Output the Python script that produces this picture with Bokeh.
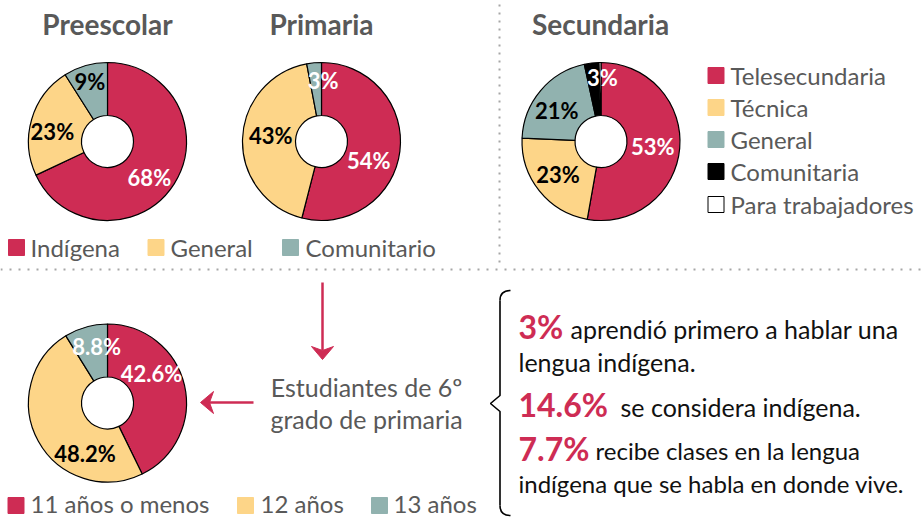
import math
from bokeh.plotting import figure
from bokeh.models import Range1d, ColumnDataSource
from bokeh.core.properties import value
from bokeh.embed import file_html
from bokeh.resources import INLINE

# ---------------- data ----------------
pre_labels = ["Indígena", "General", "Comunitario"]
pre_values = [68, 23, 9]
pri_values = [54, 43, 3]

sec_labels = ["Telesecundaria", "Técnica", "General", "Comunitaria", "Para trabajadores"]
sec_values = [53, 23, 21, 3, 0.4]

age_labels = ["11 años o menos", "12 años", "13 años"]
age_values = [42.6, 48.2, 8.8]

titles = ["Preescolar", "Primaria", "Secundaria"]

facts_num = ["3%", "14.6%", "7.7%"]
facts_txt = ["aprendió primero a hablar una", "se considera indígena.", "recibe clases en la lengua"]
facts_txt2 = ["lengua indígena.", "indígena que se habla en donde vive."]

center_text = ["Estudiantes de 6º", "grado de primaria"]

# ---------------- styles ----------------
RED = "#CE2C54"
YEL = "#FDD588"
TEAL = "#91B2AF"
GRAY = "#595959"
pal3 = [RED, YEL, TEAL]
pal5 = [RED, YEL, TEAL, "#000000", "#FFFFFF"]
FONT = "Lato"

W, H = 924, 520

def Y(py):
    return H - py

p = figure(width=W, height=H, x_range=Range1d(0, W), y_range=Range1d(0, H),
           output_backend="svg", toolbar_location=None, min_border=0)
p.axis.visible = False
p.grid.visible = False
p.outline_line_color = None
p.background_fill_color = "white"
p.border_fill_color = "white"

R_OUT, R_IN = 79, 26

def txt(xs, ys, texts, color, size, bold=False, align="left"):
    p.text(x=xs, y=[Y(v) for v in ys], text=texts, text_color=color,
           text_font=value(FONT), text_font_style="bold" if bold else "normal",
           text_font_size=f"{size}px", text_align=align, text_baseline="middle")

def donut(cx, cy, vals, colors, label_colors, tweaks):
    tot = float(sum(vals))
    starts, ends, mids = [], [], []
    c = 0.0
    for v in vals:
        a0 = c / tot
        c += v
        a1 = c / tot
        starts.append(math.pi / 2 - 2 * math.pi * a0)
        ends.append(math.pi / 2 - 2 * math.pi * a1)
        mids.append((a0 + a1) / 2 * 360.0)
    src = ColumnDataSource(dict(x=[cx] * len(vals), y=[Y(cy)] * len(vals),
                                s=starts, e=ends, c=colors[:len(vals)]))
    p.annular_wedge(x="x", y="y", inner_radius=R_IN, outer_radius=R_OUT,
                    start_angle="s", end_angle="e", direction="clock",
                    fill_color="c", line_color="black", line_width=1.2, source=src)
    lx, ly, lt, lc = [], [], [], []
    for v, m, col, tw in zip(vals, mids, label_colors, tweaks):
        if tw is None:
            continue
        r, d = tw
        ang = math.radians(m + d)
        lx.append(cx + r * math.sin(ang))
        ly.append(Y(cy - r * math.cos(ang)))
        lt.append(f"{v:g}%")
        lc.append(col)
    p.text(x=lx, y=ly, text=lt, text_color=lc, text_font=value(FONT),
           text_font_style="bold", text_font_size="22px",
           text_align="center", text_baseline="middle")

donut(107, 141, pre_values, pal3, ["white", "black", "black"],
      [(55, 8), (56, -6), (63, 0)])
donut(321, 141, pri_values, pal3, ["white", "black", "white"],
      [(51, 15), (51, 5), (61, 7)])
donut(600.5, 141, sec_values, pal5, ["white", "black", "black", "white", None],
      [(52, 1), (54, 1.5), (54, -5), (64, 8), None])
donut(107, 402.5, age_values, pal3, ["white", "black", "white"],
      [(53, -21), (55, -37), (58, 5)])

# titles
txt([107, 321, 600], [23] * 3, titles, GRAY, 28, bold=True, align="center")

# legends
def legend(sq_x, sq_y, tx, labels, colors, outline=None, ty=None):
    lc = outline if outline else colors
    p.rect(x=sq_x, y=[Y(v) for v in sq_y], width=16, height=16,
           fill_color=colors, line_color=lc, line_width=1)
    txt(tx, ty if ty else [v - 0.5 for v in sq_y], labels, GRAY, 24)

legend([16, 155.5, 290], [247] * 3, [30, 170, 305], pre_labels, pal3)
legend([715.5] * 5, [75, 107, 139, 171, 204], [730] * 5,
       sec_labels, pal5, outline=pal5[:4] + ["black"])
legend([15.5, 245, 379], [505] * 3, [30, 260, 393], age_labels, pal3, ty=[503] * 3)

# dotted separators
p.line(x=[0, W], y=[Y(269), Y(269)], line_color="#A6A6A6", line_width=2,
       line_dash="2 7")
p.line(x=[499, 499], y=[Y(4), Y(263)], line_color="#A6A6A6", line_width=2,
       line_dash="2 6")

# arrows
p.line(x=[322, 322], y=[Y(282), Y(350)], line_color=RED, line_width=2.5)
p.patch(x=[322, 311, 322, 333], y=[Y(359), Y(346), Y(350), Y(346)],
        fill_color=RED, line_color=RED, line_width=1)
p.line(x=[253, 208], y=[Y(402), Y(402)], line_color=RED, line_width=2.5)
p.patch(x=[200, 213, 209, 213], y=[Y(402), Y(391), Y(402), Y(413)],
        fill_color=RED, line_color=RED, line_width=1)

# central text
txt([366, 366], [386, 418], center_text, GRAY, 25, align="center")

# brace
p.quadratic(x0=[510], y0=[Y(290)], x1=[499.5], y1=[Y(300)], cx=[499.5], cy=[Y(290)],
            line_color="black", line_width=1.6)
p.line(x=[499.5, 499.5, 490, 499.5, 499.5],
       y=[Y(300), Y(395), Y(403), Y(411), Y(505)], line_color="black", line_width=1.6)
p.quadratic(x0=[499.5], y0=[Y(505)], x1=[510], y1=[Y(515)], cx=[499.5], cy=[Y(515)],
            line_color="black", line_width=1.6)

# right-side facts
txt([518, 518, 518], [326, 404, 448], facts_num, RED, 32, bold=True)
txt([570, 620], [328, 406], facts_txt[:2], "#111111", 25)
txt([595], [450], facts_txt[2:], "#111111", 24)
txt([518], [361], facts_txt2[:1], "#111111", 25)
txt([518], [483], facts_txt2[1:], "#111111", 24)

open("out.html", "w").write(file_html(p, INLINE))
